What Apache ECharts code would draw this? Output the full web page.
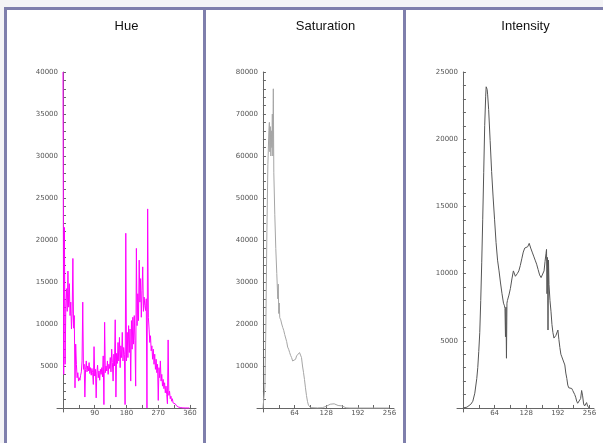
<!DOCTYPE html>
<html>
<head>
<meta charset="utf-8">
<title>HSI histograms</title>
<script src="https://cdn.jsdelivr.net/npm/echarts@6/dist/echarts.min.js"></script>
<style>
  html, body { margin: 0; padding: 0; background: #f4f4f6; }
  #wrap { position: relative; width: 603px; height: 443px; overflow: hidden; }
  .panel { position: absolute; top: 7px; bottom: -10px; background: #fff;
           border-top: 3px solid #7f7fac; border-left: 3px solid #7f7fac; }
  #chart { position: absolute; left: 0; top: 0; width: 603px; height: 443px; }
</style>
</head>
<body>
<div id="wrap">
  <div class="panel" style="left:4px; width:196px;"></div>
  <div class="panel" style="left:203px; width:197px;"></div>
  <div class="panel" style="left:403px; width:210px;"></div>
  <div id="chart"></div>
</div>
<script>
// hue histogram, 2 degree bins (0..358)
var hueCounts = [
  40000, 4000, 21500, 5200, 12000, 14200, 11500, 16300, 12000, 14800,
  11000, 12600, 9400, 11200, 17800, 9500, 11000, 2400, 7600, 5200,
  3600, 4200, 3200, 3600, 3300, 3900, 4300, 5600, 12600, 4600,
  5200, 1300, 4600, 5600, 4300, 5000, 4400, 5400, 4100, 4800,
  3900, 4700, 4200, 2800, 7300, 3800, 4600, 1200, 4300, 5100,
  3600, 4400, 3300, 4600, 4000, 4800, 3700, 6200, 400, 10200,
  4200, 5000, 4400, 5600, 4000, 5200, 4700, 6000, 4300, 7000,
  5400, 3200, 6400, 5000, 10500, 1300, 6500, 5300, 7800, 5600,
  8400, 4800, 7400, 6000, 9000, 5600, 7200, 6400, 400, 20800,
  5600, 9000, 6000, 9800, 6600, 9400, 3200, 10400, 7000, 10800,
  7600, 11000, 8000, 2600, 19000, 9800, 13600, 10400, 17600, 12600,
  15400, 10800, 14000, 16800, 11500, 13200, 12200, 11600, 13000, 0,
  23700, 10800, 9400, 7800, 8600, 6800, 7400, 5800, 7000, 5200,
  6400, 4600, 5800, 4200, 5200, 900, 4800, 3600, 5600, 3200,
  4000, 2600, 3400, 2300, 3000, 1800, 2600, 1600, 500, 8100,
  1500, 2000, 1100, 1400, 800, 1100, 600, 700, 400, 500,
  300, 250, 200, 150, 100, 80, 60, 40, 30, 20,
  10, 10, 10, 0, 0, 0, 0, 0, 0, 0
];
var hueBins = hueCounts.map(function (v, i) { return i * 2; });

var satBins = [0, 2, 4, 6, 8, 10, 12, 13, 14, 15, 16, 17, 18, 19, 20, 21, 22, 24, 26, 28,
  30, 31, 32, 33, 34, 36, 38, 40, 42, 44, 46, 48, 50, 52, 54, 56, 58, 60, 62, 64,
  66, 68, 70, 72, 74, 76, 78, 80, 82, 84, 86, 88, 90, 92, 94, 96, 100, 110, 120, 124,
  128, 132, 136, 140, 144, 148, 152, 156, 160, 164, 168, 176, 192, 224, 255];
var satCounts = [0, 300, 5000, 20000, 42000, 58000, 66000, 68000, 61000, 67000, 60000, 66000, 62000, 70000, 60000, 76000, 56000, 46000, 38000, 32000,
  26000, 29500, 22500, 25000, 21500, 21000, 20000, 19200, 18500, 17500, 17800, 15800, 14500, 14000, 13200, 12500, 12000, 11200, 11500, 10800,
  11600, 12400, 12800, 12000, 13200, 12600, 12000, 10000, 8500, 6800, 4800, 3000, 1600, 700, 250, 100, 50, 30, 80, 200,
  400, 700, 900, 700, 1000, 800, 600, 900, 500, 200, 50, 0, 0, 0, 0];

var intBins = [0, 4, 8, 12, 16, 20, 24, 28, 30, 32, 34, 36, 38, 40, 42, 44, 46, 47, 48, 49,
  50, 52, 55, 58, 61, 64, 67, 70, 73, 76, 79, 82, 84, 85, 86, 87, 88, 89, 90, 93,
  96, 99, 102, 104, 106, 108, 110, 113, 116, 119, 122, 125, 128, 131, 134, 137, 140, 143, 146, 149,
  152, 155, 158, 161, 164, 166, 168, 169, 170, 171, 172, 173, 174, 176, 178, 180, 182, 184, 186, 188,
  190, 192, 194, 196, 198, 200, 202, 204, 206, 208, 210, 212, 214, 216, 218, 220, 222, 224, 226, 228,
  230, 232, 234, 236, 238, 240, 242, 244, 246, 248, 250, 252, 254, 255];
var intCounts = [0, 0, 60, 150, 280, 500, 1100, 2200, 3000, 4200, 5600, 8000, 10800, 14000, 17500, 21000, 23200, 23900, 24000, 23700,
  23300, 22200, 19900, 17600, 15700, 14000, 12300, 11000, 10200, 9300, 8500, 7800, 7600, 7400, 5300, 7500, 3700, 7800, 8000, 8400,
  8900, 9600, 10200, 10100, 9800, 9700, 10000, 10200, 10600, 11100, 11600, 11900, 11850, 12000, 12250, 11900, 11600, 11300, 11000, 10700,
  10300, 9900, 9700, 9600, 10200, 10900, 11500, 11800, 8500, 11200, 5800, 11000, 9200, 8000, 7200, 6200, 5600, 5200, 5300, 5400,
  5500, 5800, 5100, 4500, 4000, 3800, 3700, 3700, 3200, 2600, 2200, 1700, 1500, 1600, 1400, 1450, 1300, 1200, 1000, 800,
  500, 350, 250, 300, 700, 1300, 900, 300, 150, 200, 400, 150, 50, 0];

var titles = ['Hue', 'Saturation', 'Intensity'];
var hueTicks = [45, 90, 135, 180, 225, 270, 315, 360];
var hueLabels = [90, 180, 270, 360];
var byteTicks = [32, 64, 96, 128, 160, 192, 224, 256];
var byteLabels = [64, 128, 192, 256];

function pairs(xs, ys) {
  return xs.map(function (x, i) { return [x, ys[i]]; });
}
function yTicks(step, max) {
  var out = [];
  for (var v = step; v <= max; v += step) out.push(v);
  return out;
}

var grids = [
  { left: 57, width: 139, top: 72, bottom: 31 },
  { left: 257, width: 137, top: 72, bottom: 31 },
  { left: 457, width: 137, top: 72, bottom: 31 }
];
var xRange = [[-17, 377], [-12, 265], [-12, 265]];
var yRange = [[-480, 40000, 5000, 1000], [-950, 80000, 10000, 2000], [-300, 25000, 5000, 1000]];
var xTickVals = [hueTicks, byteTicks, byteTicks];
var xLabelVals = [hueLabels, byteLabels, byteLabels];

var axisCol = '#666';
function plain(v) { return String(v); }

var option = {
  animation: false,
  backgroundColor: 'transparent',
  title: titles.map(function (t, i) {
    return {
      text: t, left: grids[i].left + grids[i].width / 2 - 5, top: 15, textAlign: 'center',
      textStyle: { fontSize: 13, fontWeight: 'normal', color: '#111', fontFamily: 'Liberation Sans, Arial' }
    };
  }),
  grid: grids,
  xAxis: grids.map(function (g, i) {
    return {
      type: 'value', gridIndex: i, min: xRange[i][0], max: xRange[i][1],
      splitLine: { show: false },
      axisLine: { onZero: true, lineStyle: { color: axisCol, width: 1 } },
      axisTick: { customValues: xTickVals[i], inside: true, length: 3, lineStyle: { color: axisCol } },
      axisLabel: { customValues: xLabelVals[i], margin: -2, formatter: plain,
                   fontSize: 7, color: '#555', fontFamily: 'DejaVu Sans' }
    };
  }),
  yAxis: grids.map(function (g, i) {
    var r = yRange[i];
    return {
      type: 'value', gridIndex: i, min: r[0], max: r[1],
      splitLine: { show: false },
      axisLine: { onZero: true, lineStyle: { color: axisCol, width: 1 } },
      axisTick: { customValues: yTicks(r[3], r[1]), inside: true, length: 3, lineStyle: { color: axisCol } },
      axisLabel: { customValues: yTicks(r[2], r[1]), margin: -1, formatter: plain,
                   fontSize: 7, color: '#555', fontFamily: 'DejaVu Sans' }
    };
  }),
  series: [
    {
      type: 'line', xAxisIndex: 0, yAxisIndex: 0, showSymbol: false,
      data: pairs(hueBins, hueCounts),
      lineStyle: { color: '#ff00ff', width: 1 }
    },
    {
      type: 'line', xAxisIndex: 1, yAxisIndex: 1, showSymbol: false,
      data: pairs(satBins, satCounts),
      lineStyle: { color: '#a5a5a5', width: 1 }
    },
    {
      type: 'line', xAxisIndex: 2, yAxisIndex: 2, showSymbol: false,
      data: pairs(intBins, intCounts),
      lineStyle: { color: '#555', width: 1 }
    }
  ]
};

var chart = echarts.init(document.getElementById('chart'), null, { renderer: 'canvas' });
chart.setOption(option);
</script>
</body>
</html>
